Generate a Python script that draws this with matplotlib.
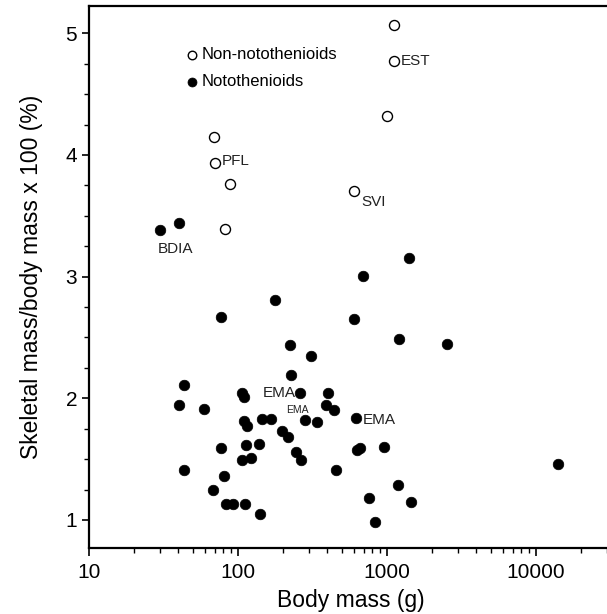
import matplotlib
matplotlib.use("Agg")
import matplotlib.pyplot as plt
from matplotlib import ticker

plt.rcParams['font.family'] = ['Liberation Sans', 'DejaVu Sans']

# Non-notothenioids (open circles)
non_mass = [1122, 1122, 1012, 69.5, 70.6, 89, 605, 82.4]
non_skel = [5.07, 4.77, 4.32, 4.15, 3.93, 3.76, 3.705, 3.39]

# Notothenioids (filled circles)
noto_mass = [30.2, 40.1, 1416, 698, 178, 77.8, 605, 1213, 2535, 223, 310, 228,
             43.3, 107, 110.6, 262, 406, 40.5, 59.3, 394, 444, 110, 115, 146,
             168, 282, 342, 618, 197, 218, 77.8, 113.5, 139, 631, 664, 961,
             247, 266, 107, 123, 14220, 43.3, 81.1, 458, 68.6, 1183, 83.4,
             93.3, 111.6, 141, 764, 1466, 837]
noto_skel = [3.384, 3.444, 3.15, 3.006, 2.81, 2.668, 2.654, 2.49, 2.446, 2.438,
             2.344, 2.188, 2.111, 2.045, 2.007, 2.045, 2.045, 1.944, 1.914,
             1.944, 1.90, 1.815, 1.774, 1.829, 1.829, 1.82, 1.804, 1.837, 1.73,
             1.683, 1.595, 1.615, 1.628, 1.576, 1.595, 1.598, 1.562, 1.491,
             1.494, 1.513, 1.458, 1.41, 1.362, 1.41, 1.25, 1.29, 1.13, 1.13,
             1.134, 1.047, 1.18, 1.15, 0.984]

# Point labels: (text, x, y, dx_pt, dy_pt, ha, fontsize)
labels = [
    ("EST", 1122, 4.77, 4.5, 0.0, 'left', 11),
    ("PFL", 70.6, 3.93, 4.5, 1.5, 'left', 11),
    ("SVI", 605, 3.705, 5.0, -8.0, 'left', 11),
    ("BDIA", 30.2, 3.384, -1.5, -13.5, 'left', 11),
    ("EMA", 262, 2.045, -3.0, 0.0, 'right', 11),
    ("EMA", 282, 1.82, -5.0, 7.5, 'center', 7.5),
    ("EMA", 618, 1.837, 5.0, -1.0, 'left', 11),
]

xticks = [10, 100, 1000, 10000]
yticks = [1, 2, 3, 4, 5]

W, H = 607, 614
x0, ytop, ybot = 88.7, 6.0, 547.5
ax_w = W - x0 + 6
fig = plt.figure(figsize=(W / 100, H / 100), dpi=100)
ax = fig.add_axes([x0 / W, (H - ybot) / H, ax_w / W, (ybot - ytop) / H])

h_non = ax.scatter(non_mass, non_skel, s=52, facecolors='white', edgecolors='black',
                   linewidths=1.0, zorder=3, label='Non-notothenioids')
h_noto = ax.scatter(noto_mass, noto_skel, s=58, facecolors='black', edgecolors='black',
                    linewidths=0.5, zorder=3, label='Notothenioids')

for txt, x, y, dx, dy, ha, fs in labels:
    ax.annotate(txt, (x, y), xytext=(dx, dy), textcoords='offset points',
                ha=ha, va='center', fontsize=fs, color='#222222')

ax.set_xscale('log')
ax.set_xlim(10, 10 ** (1 + ax_w / 149.0))
ax.set_ylim(0.774, 5.224)

ax.xaxis.set_major_locator(ticker.FixedLocator(xticks))
ax.xaxis.set_major_formatter(ticker.FuncFormatter(lambda v, p: f"{int(round(v))}"))
ax.xaxis.set_minor_locator(ticker.LogLocator(base=10, subs=range(2, 10)))
ax.xaxis.set_minor_formatter(ticker.NullFormatter())

ax.yaxis.set_major_locator(ticker.FixedLocator(yticks))
ax.yaxis.set_minor_locator(ticker.MultipleLocator(0.25))

ax.tick_params(axis='both', which='major', direction='out', length=5.4, width=1.2,
               labelsize=15, colors='black')
ax.tick_params(axis='x', which='major', pad=6)
ax.tick_params(axis='y', which='major', pad=3)
ax.tick_params(axis='both', which='minor', direction='out', length=3.4, width=1.0)

for side in ['left', 'bottom', 'top']:
    ax.spines[side].set_linewidth(1.6)
ax.spines['right'].set_visible(False)

ax.set_xlabel('Body mass (g)', fontsize=16.5, labelpad=5)
ax.set_ylabel('Skeletal mass/body mass x 100 (%)', fontsize=16.5, labelpad=16)

leg = ax.legend(handles=[h_non, h_noto], loc='upper left',
                bbox_to_anchor=((181.7 - x0) / ax_w, 1 - (47.3 - ytop) / (ybot - ytop)),
                frameon=False, fontsize=12, handletextpad=0.0, labelspacing=0.72,
                markerscale=0.85, borderpad=0, borderaxespad=0, handlelength=1.2)

fig.savefig('out.png', dpi=100)
